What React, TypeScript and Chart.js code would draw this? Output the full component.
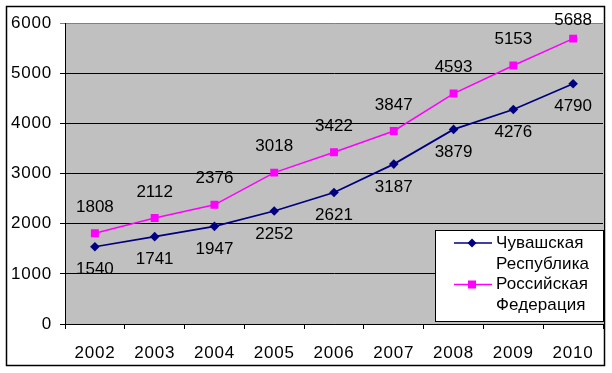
import React, { useEffect, useRef } from 'react';
import { Chart, registerables } from 'chart.js';

Chart.register(...registerables);

const years = ['2002', '2003', '2004', '2005', '2006', '2007', '2008', '2009', '2010'];
const chuvashia = [1540, 1741, 1947, 2252, 2621, 3187, 3879, 4276, 4790];
const russia = [1808, 2112, 2376, 3018, 3422, 3847, 4593, 5153, 5688];
const chuvashiaName = ['Чувашская', 'Республика'];
const russiaName = ['Российская', 'Федерация'];
const yMin = 0;
const yMax = 6000;
const yStep = 1000;

const FONT = '"Liberation Sans", Arial, sans-serif';
const NAVY = '#000080';
const MAGENTA = '#FF00FF';

const framePlugin = {
  id: 'frame',
  beforeDraw(chart: any) {
    const { ctx, chartArea } = chart;
    ctx.save();
    ctx.fillStyle = '#FFFFFF';
    ctx.fillRect(0, 0, chart.width, chart.height);
    ctx.fillStyle = '#C0C0C0';
    ctx.fillRect(chartArea.left, chartArea.top, chartArea.right - chartArea.left, chartArea.bottom - chartArea.top);
    ctx.restore();
    (ctx as any).letterSpacing = '0.8px';
  },
  afterDraw(chart: any) {
    const { ctx } = chart;
    ctx.save();
    // outer frame
    ctx.strokeStyle = '#000000';
    ctx.lineWidth = 1.5;
    ctx.strokeRect(6.5, 6.5, 598, 359);
    // legend
    const lx = 435, ly = 230, lw = 168, lh = 91;
    ctx.fillStyle = '#FFFFFF';
    ctx.fillRect(lx, ly, lw, lh);
    ctx.strokeStyle = '#000000';
    ctx.lineWidth = 1;
    ctx.strokeRect(lx + 0.5, ly + 0.5, lw, lh);
    const entries = [
      { name: chuvashiaName, color: NAVY, style: 'diamond', y: 243 },
      { name: russiaName, color: MAGENTA, style: 'square', y: 284.5 },
    ];
    ctx.font = `17px ${FONT}`;
    (ctx as any).letterSpacing = '0.1px';
    ctx.textBaseline = 'middle';
    ctx.textAlign = 'left';
    for (const e of entries) {
      ctx.strokeStyle = e.color;
      ctx.lineWidth = 1.5;
      ctx.beginPath();
      ctx.moveTo(454, e.y);
      ctx.lineTo(492, e.y);
      ctx.stroke();
      ctx.fillStyle = e.color;
      if (e.style === 'diamond') {
        ctx.beginPath();
        ctx.moveTo(472, e.y - 4.5);
        ctx.lineTo(476.5, e.y);
        ctx.lineTo(472, e.y + 4.5);
        ctx.lineTo(467.5, e.y);
        ctx.closePath();
        ctx.fill();
      } else {
        ctx.fillRect(468, e.y - 4, 8, 8);
      }
      ctx.fillStyle = '#000000';
      ctx.fillText(e.name[0], 496, e.y);
      ctx.fillText(e.name[1], 496, e.y + 21);
    }
    ctx.restore();
  },
};

const labelsPlugin = {
  id: 'pointLabels',
  afterDatasetsDraw(chart: any) {
    const { ctx } = chart;
    ctx.save();
    ctx.font = `17px ${FONT}`;
    (ctx as any).letterSpacing = '0px';
    ctx.fillStyle = '#000000';
    ctx.textAlign = 'center';
    ctx.textBaseline = 'middle';
    chart.data.datasets.forEach((ds: any, di: number) => {
      const meta = chart.getDatasetMeta(di);
      meta.data.forEach((pt: any, i: number) => {
        const v = ds.data[i];
        let y = ds.labelAbove ? pt.y - 26 : pt.y + 23;
        if (y < 20) y = 20;
        ctx.fillText(String(v), pt.x, y);
      });
    });
    ctx.restore();
  },
};

export default function App() {
  const ref = useRef<HTMLCanvasElement | null>(null);
  useEffect(() => {
    if (!ref.current) return;
    const chart = new Chart(ref.current, {
      type: 'line',
      data: {
        labels: years,
        datasets: [
          {
            label: chuvashiaName.join(' '),
            data: chuvashia,
            borderColor: NAVY,
            backgroundColor: NAVY,
            borderWidth: 1.75,
            pointStyle: 'rectRot',
            pointRadius: 4.8,
            pointBorderWidth: 0,
            tension: 0,
            labelAbove: false,
          } as any,
          {
            label: russiaName.join(' '),
            data: russia,
            borderColor: MAGENTA,
            backgroundColor: MAGENTA,
            borderWidth: 1.5,
            pointStyle: 'rect',
            pointRadius: 5.6,
            pointBorderWidth: 0,
            tension: 0,
            labelAbove: true,
          } as any,
        ],
      },
      options: {
        responsive: false,
        animation: false,
        layout: { padding: { top: 23, right: 9, left: 0, bottom: 0 } },
        plugins: {
          legend: { display: false },
          tooltip: { enabled: false },
        },
        scales: {
          x: {
            offset: true,
            grid: {
              offset: true,
              drawOnChartArea: false,
              drawTicks: true,
              tickLength: 5,
              color: '#000000',
            },
            border: { display: true, color: '#000000', width: 1 },
            ticks: {
              color: '#000000',
              font: { family: FONT, size: 17 },
              padding: 14,
              maxRotation: 0,
            },
            afterFit(scale: any) {
              scale.height = 49;
            },
          },
          y: {
            min: yMin,
            max: yMax,
            grid: {
              color: (c: any) => (c.tick && c.tick.value === yMax ? '#808080' : '#000000'),
              tickLength: 5,
              drawTicks: true,
            },
            border: { display: true, color: '#000000', width: 1 },
            ticks: {
              stepSize: yStep,
              color: '#000000',
              font: { family: FONT, size: 17 },
              padding: 8,
              callback: (v: any) => String(v),
            },
            afterFit(scale: any) {
              scale.width = 65;
            },
          },
        },
      },
      plugins: [framePlugin, labelsPlugin],
    } as any);
    return () => chart.destroy();
  }, []);
  return (
    <div style={{ position: 'absolute', left: 0, top: 0, width: 612, height: 373 }}>
      <canvas ref={ref} width={612} height={373} />
    </div>
  );
}
